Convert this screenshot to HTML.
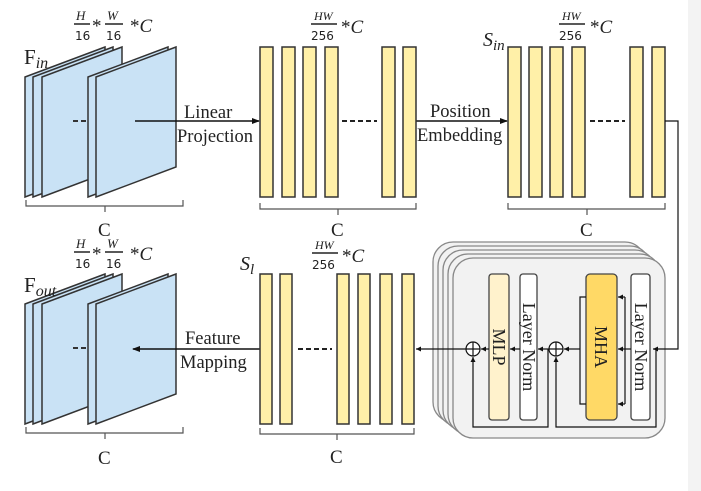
<!DOCTYPE html>
<html><head><meta charset="utf-8"><style>
body{margin:0;background:#fff;}
svg{display:block;}
text{font-family:"Liberation Serif",serif;fill:#222;}
</style></head><body>
<svg width="701" height="491" viewBox="0 0 701 491" xmlns="http://www.w3.org/2000/svg">
<defs>
<marker id="a" markerWidth="8" markerHeight="8" refX="7" refY="4" orient="auto" markerUnits="userSpaceOnUse"><path d="M0,1 L8,4 L0,7 Z" fill="#111"/></marker>
<marker id="s" markerWidth="5" markerHeight="5" refX="5" refY="2.5" orient="auto" markerUnits="userSpaceOnUse"><path d="M0,0 L5,2.5 L0,5 Z" fill="#111"/></marker>
<g id="planes" stroke="#333" stroke-width="1.5" fill="#c9e2f5">
<polygon points="25,77 105,47 105,167 25,197"/>
<polygon points="33,77 113,47 113,167 33,197"/>
<polygon points="42,77 122,47 122,167 42,197"/>
<line x1="73" y1="121" x2="87" y2="121" stroke-dasharray="5,3" stroke-width="2"/>
<polygon points="88,77 168,47 168,167 88,197"/>
<polygon points="96,77 176,47 176,167 96,197"/>
<path d="M26,200 v6 h157 v-6 M105,206 v6" fill="none" stroke="#555" stroke-width="1.2"/>
</g>
</defs>
<rect x="688" y="0" width="13" height="491" fill="#f3f3f3"/>

<use href="#planes"/>
<use href="#planes" y="227"/>

<g font-size="13" font-style="italic">
<text x="76" y="20">H</text><text x="107" y="20">W</text>
<text x="76" y="248">H</text><text x="107" y="248">W</text>
</g>
<g stroke="#222" stroke-width="1.5"><line x1="74" y1="24" x2="90" y2="24"/><line x1="105" y1="24" x2="123" y2="24"/>
<line x1="74" y1="252" x2="90" y2="252"/><line x1="105" y1="252" x2="123" y2="252"/></g>
<g font-size="12">
<text x="75" y="40" style="font-family:'DejaVu Sans',sans-serif">16</text><text x="106" y="40" style="font-family:'DejaVu Sans',sans-serif">16</text>
<text x="75" y="268" style="font-family:'DejaVu Sans',sans-serif">16</text><text x="106" y="268" style="font-family:'DejaVu Sans',sans-serif">16</text>
</g>
<g font-size="19"><text x="92" y="32">*</text><text x="92" y="260">*</text>
<text x="130" y="32">*<tspan font-style="italic">C</tspan></text>
<text x="130" y="260">*<tspan font-style="italic">C</tspan></text></g>
<text x="24" y="64" font-size="21">F<tspan font-size="16" font-style="italic" dy="4">in</tspan></text>
<text x="24" y="292" font-size="21">F<tspan font-size="16" font-style="italic" dy="4">out</tspan></text>
<text x="98" y="236" font-size="19">C</text>
<text x="98" y="464" font-size="19">C</text>

<line x1="135" y1="121" x2="259" y2="121" stroke="#111" stroke-width="1.5" marker-end="url(#a)"/>
<text x="184" y="118" font-size="18.5">Linear</text>
<text x="177" y="142" font-size="18.5">Projection</text>
<line x1="416" y1="121" x2="507" y2="121" stroke="#111" stroke-width="1.5" marker-end="url(#a)"/>
<text x="430" y="117" font-size="18.5">Position</text>
<text x="417" y="141" font-size="18.5">Embedding</text>
<line x1="260" y1="349" x2="133" y2="349" stroke="#111" stroke-width="1.5" marker-end="url(#a)"/>
<text x="185" y="344" font-size="18.5">Feature</text>
<text x="180" y="368" font-size="18.5">Mapping</text>

<g fill="#fff0a8" stroke="#333" stroke-width="1.5">
<rect x="260" y="47" width="13" height="150"/><rect x="282" y="47" width="13" height="150"/><rect x="303" y="47" width="13" height="150"/><rect x="325" y="47" width="13" height="150"/><rect x="382" y="47" width="13" height="150"/><rect x="403" y="47" width="13" height="150"/>
<rect x="508" y="47" width="13" height="150"/><rect x="529" y="47" width="13" height="150"/><rect x="550" y="47" width="13" height="150"/><rect x="572" y="47" width="13" height="150"/><rect x="630" y="47" width="13" height="150"/><rect x="652" y="47" width="13" height="150"/>
<rect x="260" y="274" width="12" height="150"/><rect x="280" y="274" width="12" height="150"/><rect x="337" y="274" width="12" height="150"/><rect x="358" y="274" width="12" height="150"/><rect x="380" y="274" width="12" height="150"/><rect x="402" y="274" width="12" height="150"/>
</g>
<g stroke="#222" stroke-width="2" stroke-dasharray="5,3">
<line x1="342" y1="121" x2="377" y2="121"/><line x1="590" y1="121" x2="625" y2="121"/><line x1="298" y1="349" x2="332" y2="349"/>
</g>
<g fill="none" stroke="#555" stroke-width="1.2">
<path d="M260,203 v6 h156 v-6 M338,209 v6"/>
<path d="M508,203 v6 h157 v-6 M587,209 v6"/>
<path d="M260,428 v6 h154 v-6 M337,434 v6"/>
</g>
<text x="331" y="236" font-size="19">C</text>
<text x="580" y="236" font-size="19">C</text>
<text x="330" y="463" font-size="19">C</text>
<g font-size="12" font-style="italic"><text x="314" y="20">HW</text><text x="562" y="20">HW</text><text x="315" y="249">HW</text></g>
<g stroke="#222" stroke-width="1.5"><line x1="311" y1="24" x2="337" y2="24"/><line x1="559" y1="24" x2="585" y2="24"/><line x1="312" y1="253" x2="338" y2="253"/></g>
<g font-size="12"><text x="311" y="40" style="font-family:'DejaVu Sans',sans-serif">256</text><text x="559" y="40" style="font-family:'DejaVu Sans',sans-serif">256</text><text x="312" y="269" style="font-family:'DejaVu Sans',sans-serif">256</text></g>
<g font-size="19"><text x="341" y="33">*<tspan font-style="italic">C</tspan></text><text x="590" y="33">*<tspan font-style="italic">C</tspan></text><text x="342" y="262">*<tspan font-style="italic">C</tspan></text></g>
<text x="483" y="46" font-size="20" font-style="italic">S<tspan font-size="15" dy="4">in</tspan></text>
<text x="240" y="270" font-size="20" font-style="italic">S<tspan font-size="15" dy="4">l</tspan></text>

<g fill="#f2f2f2" stroke="#888" stroke-width="1.3">
<rect x="433" y="242" width="212" height="180" rx="20"/>
<rect x="438" y="246" width="212" height="180" rx="20"/>
<rect x="443" y="250" width="212" height="180" rx="20"/>
<rect x="448" y="254" width="212" height="180" rx="20"/>
<rect x="453" y="258" width="212" height="180" rx="20"/>
</g>
<rect x="489" y="274" width="20" height="146" rx="3" fill="#fff2cc" stroke="#444" stroke-width="1.3"/>
<rect x="520" y="274" width="17" height="146" rx="3" fill="#fff" stroke="#444" stroke-width="1.3"/>
<rect x="586" y="274" width="31" height="146" rx="4" fill="#ffd966" stroke="#444" stroke-width="1.3"/>
<rect x="631" y="274" width="19" height="146" rx="3" fill="#fff" stroke="#444" stroke-width="1.3"/>
<g font-size="18">
<text transform="translate(493,347) rotate(90)" text-anchor="middle">MLP</text>
<text transform="translate(523,347) rotate(90)" text-anchor="middle">Layer Norm</text>
<text transform="translate(595,347) rotate(90)" text-anchor="middle">MHA</text>
<text transform="translate(635,347) rotate(90)" text-anchor="middle">Layer Norm</text>
</g>
<g fill="none" stroke="#111" stroke-width="1.2">
<path d="M665,121 h13 v228 h-25" marker-end="url(#s)"/>
<path d="M656,349 v78 h-100 v-70" marker-end="url(#s)"/>
<path d="M631,349 h-13" marker-end="url(#s)"/>
<path d="M625,297 v107"/>
<path d="M625,297 h-7" marker-end="url(#s)"/>
<path d="M625,404 h-7" marker-end="url(#s)"/>
<path d="M586,297 h-6 v107 h6"/>
<path d="M580,349 h-16" marker-end="url(#s)"/>
<path d="M549,349 h-11" marker-end="url(#s)"/>
<path d="M548,349 v78 h-75 v-70" marker-end="url(#s)"/>
<path d="M520,349 h-10" marker-end="url(#s)"/>
<path d="M489,349 h-8" marker-end="url(#s)"/>
<path d="M466,349 h-50" marker-end="url(#s)"/>
<circle cx="473" cy="349" r="7" fill="#fff"/>
<circle cx="556" cy="349" r="7" fill="#fff"/>
<path d="M466,349 h14 M473,342 v14 M549,349 h14 M556,342 v14"/>
</g>
</svg>
</body></html>
